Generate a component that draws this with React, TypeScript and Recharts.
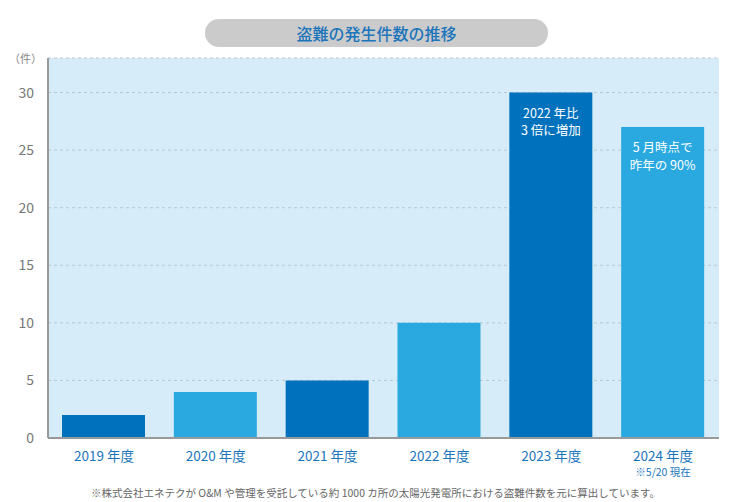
import React from 'react';
import { BarChart, Bar, XAxis, YAxis, CartesianGrid, Cell, LabelList } from 'recharts';

const categories = ['2019 年度', '2020 年度', '2021 年度', '2022 年度', '2023 年度', '2024 年度'];
const counts = [2, 4, 5, 10, 30, 27];
const barColors = ['#0071BC', '#29A9E0', '#0071BC', '#29A9E0', '#0071BC', '#29A9E0'];
const barNotes: string[][] = [[], [], [], [], ['2022 年比', '3 倍に増加'], ['5 月時点で', '昨年の 90%']];
const tickNotes = ['', '', '', '', '', '※5/20 現在'];
const yTicks = [0, 5, 10, 15, 20, 25, 30];
const title = '盗難の発生件数の推移';
const unitLabel = '（件）';
const footnote = '※株式会社エネテクが O&M や管理を受託している約 1000 カ所の太陽光発電所における盗難件数を元に算出しています。';

const data = categories.map((c, i) => ({ name: c, value: counts[i], idx: i }));

const FONT = '"Noto Sans CJK JP", "Noto Sans", sans-serif';

const XTick = (props: any) => {
  const { x, y, payload, index } = props;
  const note = tickNotes[index];
  return (
    <g>
      <text x={x} y={y + 15} textAnchor="middle" fill="#1B75BB" fontSize={13.5} fontFamily={FONT}>
        {payload.value}
      </text>
      {note ? (
        <text x={x} y={y + 30} textAnchor="middle" fill="#1B75BB" fontSize={10.5} fontFamily={FONT}>
          {note}
        </text>
      ) : null}
    </g>
  );
};

const BarNote = (props: any) => {
  const { x, y, width, index } = props;
  const lines = barNotes[index] || [];
  return (
    <g>
      {lines.map((l, k) => (
        <text key={k} x={x + width / 2} y={y + 25 + k * 17.5} textAnchor="middle" fill="#FFFFFF" fontSize={12.5} fontFamily={FONT}>
          {l}
        </text>
      ))}
    </g>
  );
};

export default function App() {
  return (
    <div style={{ position: 'absolute', left: 0, top: 0, width: 751, height: 502, background: '#fff', fontFamily: FONT }}>
      <div
        style={{
          position: 'absolute', left: 205, top: 19, width: 343, height: 28, borderRadius: 14,
          background: '#CBCBCB', color: '#1B75BB', fontSize: 16, lineHeight: '28px', textAlign: 'center', fontWeight: 500,
        }}
      >
        {title}
      </div>
      <div style={{ position: 'absolute', left: 9, top: 51, fontSize: 11, color: '#888', lineHeight: '14px' }}>{unitLabel}</div>
      <div style={{ position: 'absolute', left: 0, top: 486, width: 751, textAlign: 'center', fontSize: 10.5, color: '#666', lineHeight: '14px' }}>
        {footnote}
      </div>
      <div style={{ position: 'absolute', left: 0, top: 0 }}>
        <BarChart width={751} height={502} data={data} margin={{ top: 58, right: 32, bottom: 34, left: 0 }} barSize={83}>
          <CartesianGrid vertical={false} horizontal={true} fill="#D6ECF8" stroke="#B5C9D4" strokeDasharray="3 3" />
          <XAxis dataKey="name" height={30} tick={<XTick />} tickLine={false} axisLine={{ stroke: '#999', strokeWidth: 2 }} interval={0} />
          <YAxis
            width={48}
            domain={[0, 33]}
            ticks={yTicks}
            tickLine={false}
            axisLine={{ stroke: '#999', strokeWidth: 2 }}
            tick={{ fill: '#777', fontSize: 14, fontFamily: FONT }}
            tickMargin={8}
          />
          <Bar dataKey="value" isAnimationActive={false}>
            {data.map((d, i) => (
              <Cell key={i} fill={barColors[i]} />
            ))}
            <LabelList dataKey="value" content={<BarNote />} />
          </Bar>
        </BarChart>
      </div>
    </div>
  );
}
